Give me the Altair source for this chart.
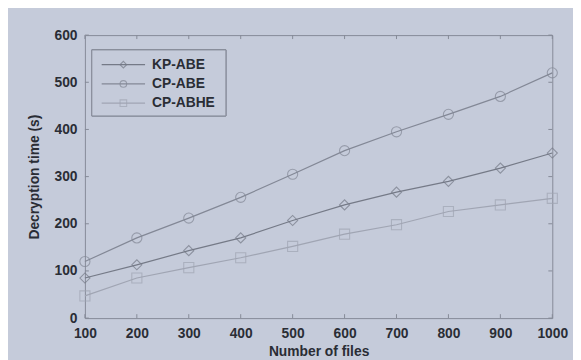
import altair as alt
import pandas as pd

files = [100, 200, 300, 400, 500, 600, 700, 800, 900, 1000]
kp_abe = [85, 113, 143, 170, 207, 240, 267, 290, 318, 350]
cp_abe = [120, 170, 212, 256, 305, 355, 395, 432, 470, 520]
cp_abhe = [47, 85, 107, 128, 152, 178, 198, 226, 240, 254]
series = ["KP-ABE", "CP-ABE", "CP-ABHE"]
colors = ["#757a87", "#838896", "#a0a5b3"]
shapes = ["diamond", "circle", "square"]
x_ticks = [100, 200, 300, 400, 500, 600, 700, 800, 900, 1000]
y_ticks = [0, 100, 200, 300, 400, 500, 600]

BG = "#c5cbda"
FRAME = "#858a97"
TXT = "#2a2d35"
W, H = 474, 287

rows = []
for name, vals in zip(series, [kp_abe, cp_abe, cp_abhe]):
    for f, v in zip(files, vals):
        rows.append({"files": f, "time": v, "series": name})
df = pd.DataFrame(rows)

xs = alt.Scale(domain=[100, 1000], nice=False)
ys = alt.Scale(domain=[0, 600], nice=False)
col = alt.Scale(domain=series, range=colors)
shp = alt.Scale(domain=series, range=shapes)

base = alt.Chart(df)
lines = base.mark_line(strokeWidth=1.2).encode(
    x=alt.X("files:Q", scale=xs,
            axis=alt.Axis(values=x_ticks, format="d", title="Number of files",
                          grid=False, labelFlush=False)),
    y=alt.Y("time:Q", scale=ys,
            axis=alt.Axis(values=y_ticks, format="d", title="Decryption time (s)",
                          grid=False, labelFlush=False)),
    color=alt.Color("series:N", scale=col, legend=None),
    detail="series:N",
)
points = base.mark_point(filled=False, size=105, strokeWidth=1.1).encode(
    x=alt.X("files:Q", scale=xs),
    y=alt.Y("time:Q", scale=ys),
    color=alt.Color("series:N", scale=col, legend=None),
    shape=alt.Shape("series:N", scale=shp, legend=None),
)

# inward ticks on all four sides
xt = pd.DataFrame({"v": x_ticks})
yt = pd.DataFrame({"v": y_ticks})
tb = alt.Chart(xt).mark_rule(color=FRAME, strokeWidth=1).encode(
    x=alt.X("v:Q", scale=xs), y=alt.value(H), y2=alt.value(H - 4))
tt = alt.Chart(xt).mark_rule(color=FRAME, strokeWidth=1).encode(
    x=alt.X("v:Q", scale=xs), y=alt.value(0), y2=alt.value(4))
tl = alt.Chart(yt).mark_rule(color=FRAME, strokeWidth=1).encode(
    y=alt.Y("v:Q", scale=ys), x=alt.value(0), x2=alt.value(4))
tr = alt.Chart(yt).mark_rule(color=FRAME, strokeWidth=1).encode(
    y=alt.Y("v:Q", scale=ys), x=alt.value(W), x2=alt.value(W - 4))

main = alt.layer(lines, points, tb, tt, tl, tr)

# manual legend
leg = pd.DataFrame({"series": series, "i": [0, 1, 2]})
ly = alt.Y("i:Q", scale=alt.Scale(domain=[0, 2], range=[30, 69]), axis=None)
lbox = alt.Chart(leg).mark_rect(fill=BG, stroke=FRAME, strokeWidth=1).encode(
    x=alt.value(7), x2=alt.value(143), y=alt.value(15), y2=alt.value(82))
lline = alt.Chart(leg).mark_rule(strokeWidth=1.2).encode(
    x=alt.value(17), x2=alt.value(61), y=ly,
    color=alt.Color("series:N", scale=col, legend=None))
lpt = alt.Chart(leg).mark_point(filled=False, size=45, strokeWidth=1.1).encode(
    x=alt.value(39), y=ly,
    color=alt.Color("series:N", scale=col, legend=None),
    shape=alt.Shape("series:N", scale=shp, legend=None))
ltxt = alt.Chart(leg).mark_text(align="left", baseline="middle", fontSize=14,
                                fontWeight="bold",
                                font="Liberation Sans", color=TXT).encode(
    x=alt.value(68), y=ly, text="series:N")
legend = alt.layer(lbox, lline, lpt, ltxt)

chart = alt.layer(main, legend).resolve_scale(
    x="independent", y="independent"
).properties(
    width=W, height=H,
    background=BG,
    padding={"left": 78, "top": 25, "right": 21, "bottom": 40},
    autosize=alt.AutoSizeParams(type="none"),
).configure_view(
    stroke=FRAME, strokeWidth=1, fill=BG
).configure_axis(
    domain=False, ticks=False,
    labelFont="Liberation Sans", labelFontSize=14, labelColor=TXT,
    labelFontWeight="bold",
    titleFont="Liberation Sans", titleFontSize=14, titleColor=TXT,
    titleFontWeight="bold", labelPadding=8,
).configure_axisX(
    labelPadding=9, titlePadding=4,
).configure_axisY(
    titlePadding=13,
)

chart.save("out.html", embed_options={"renderer": "svg", "actions": False})
